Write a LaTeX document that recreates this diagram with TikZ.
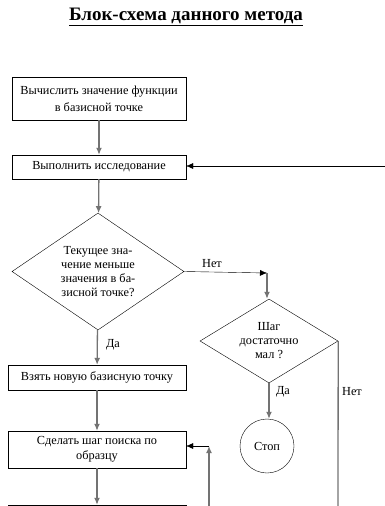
\documentclass[tikz,border=0pt]{standalone}
\usepackage{fontspec}
\setmainfont{Liberation Serif}
\usetikzlibrary{shapes.geometric,calc,arrows.meta}

\begin{document}
\begin{tikzpicture}[x=1pt,y=-1pt,>={Latex[length=7pt,width=6pt]},every text node part/.style={align=center}]
		\tikzstyle{box}=[rectangle,draw,inner sep=1pt,
							font=\fontsize{12.3}{15}\selectfont]
		\tikzstyle{cond}=[diamond,draw,inner sep=0pt,
							font=\fontsize{12.3}{14}\selectfont]
		\tikzstyle{vlink}=[black!55,line width=1.3pt,->]
		\tikzstyle{hlink}=[black,->]
		\tikzstyle{lbl}=[font=\fontsize{12.3}{14}\selectfont]

		\useasboundingbox (0,0) rectangle (385,506);
		\clip (0,0) rectangle (385,506);

		% title
		\node (title) at (186,17) {\fontsize{19}{22}\selectfont\bfseries\underline{Блок-схема данного метода}};

		% left column
		\node[box,minimum width=174,minimum height=43] (calc) at (99,98.5) {Вычислить значение функции\\[2pt]в базисной точке};
		\node[box,minimum width=174,minimum height=24] (explore) at (99,167) {Выполнить исследование};
		\node[cond,aspect=1.47,minimum width=172,minimum height=117] (better) at (98,271.5) {Текущее зна-\\чение меньше\\значения в ба-\\зисной точке?};
		\node[box,minimum width=178,minimum height=25] (newbase) at (97,377.5) {Взять новую базисную точку};
		\node[box,minimum width=178,minimum height=37] (pattern) at (97,449.5) {Сделать шаг поиска по\\образцу};
		\node[box,minimum width=178,minimum height=40] (next) at (97,525) {};

		% right column
		\node[cond,aspect=1.64,minimum width=138,minimum height=84] (small) at (269,341) {Шаг\\достаточно\\мал ?};
		\node[circle,draw,minimum size=54,font=\fontsize{12.3}{14}\selectfont] (stop) at (267,446) {Стоп};

		% free ends
		\coordinate (back) at (390,166);
		\coordinate (turn) at (267,273);
		\coordinate (loopin) at (209,446);
		\coordinate (loopfoot) at (209,512);
		\coordinate (nofoot) at (338,512);

		% edges
		\draw[vlink] (calc) -- (explore);
		\draw[hlink] (back) -- (explore.east |- back);
		\draw[vlink] (explore) -- (better);
		\draw[hlink] (better.east) -- (turn);
		\draw[vlink] (turn) -- (small.north -| turn);
		\draw[vlink] (better) -- (newbase);
		\draw[vlink] (newbase) -- (newbase |- pattern.north);
		\draw[vlink] (pattern.south -| newbase) -- (next);
		\draw[vlink] (small) -- (small.south |- stop.north);
		\draw[black!55,line width=1.3pt] (small.east) -- (nofoot);
		\draw[vlink] (loopfoot) -- (loopin);
		\draw[hlink] (loopin) -- (pattern.east |- loopin);

		% labels
		\node[lbl] (no1) at (212,264) {Нет};
		\node[lbl] (yes1) at (113,345) {Да};
		\node[lbl] (yes2) at (283,392) {Да};
		\node[lbl] (no2) at (352,392) {Нет};

	\end{tikzpicture}
\end{document}
